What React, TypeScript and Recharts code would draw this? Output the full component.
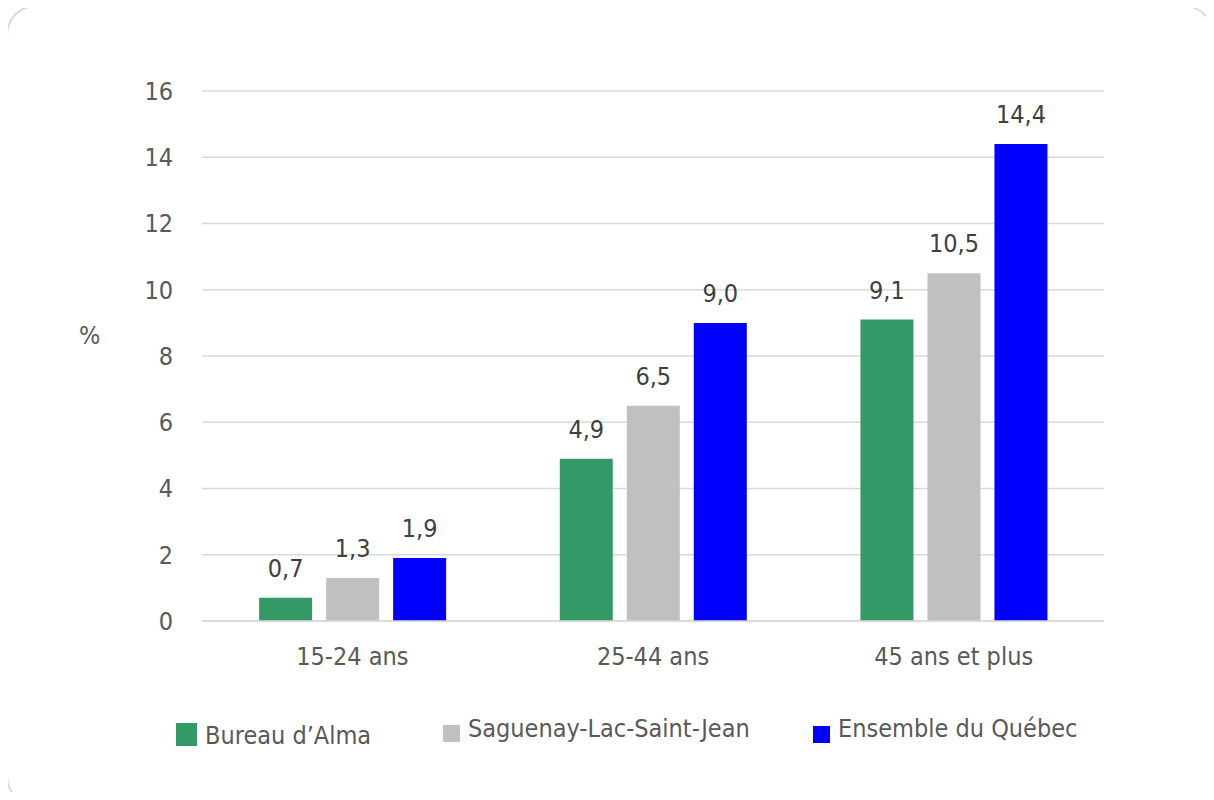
import React from "react";
import { BarChart, Bar, XAxis, YAxis, CartesianGrid, LabelList, Label } from "recharts";

const categories = ["15-24 ans", "25-44 ans", "45 ans et plus"];
const seriesNames = ["Bureau d’Alma", "Saguenay-Lac-Saint-Jean", "Ensemble du Québec"];
const almaValues = [0.7, 4.9, 9.1];
const saguenayValues = [1.3, 6.5, 10.5];
const quebecValues = [1.9, 9.0, 14.4];
const yTicks = [0, 2, 4, 6, 8, 10, 12, 14, 16];

const colors = ["#339966", "#c0c0c0", "#0000ff"];
const keys = ["alma", "saguenay", "quebec"];

const data = categories.map((c, i) => ({
  name: c,
  alma: almaValues[i],
  saguenay: saguenayValues[i],
  quebec: quebecValues[i],
}));

const legendLayout = [
  { left: 176, top: 723, w: 21, h: 23, textLeft: 205, textTop: 721 },
  { left: 443, top: 725, w: 17, h: 17, textLeft: 468, textTop: 714 },
  { left: 813, top: 726, w: 17, h: 17, textLeft: 838, textTop: 714 },
];

const fmt = (v: any) => Number(v).toFixed(1).replace(".", ",");

const FONT = "DejaVu Sans Condensed, DejaVu Sans";
const tickFont = { fontFamily: FONT, fontSize: 25, fill: "#595959" };

export default function App() {
  return (
    <div style={{ position: "relative", margin: -8, width: 1214, height: 800, background: "#fff", overflow: "hidden" }}>
      <div
        style={{
          position: "absolute",
          left: 6,
          top: 5,
          width: 1204,
          height: 797,
          border: "2px solid #d9d9d9",
          borderRadius: 30,
        }}
      />
      <div style={{ position: "absolute", left: 0, top: 0 }}>
        <BarChart
          width={1214}
          height={800}
          data={data}
          margin={{ top: 91, right: 110, bottom: 119, left: 0 }}
          barCategoryGap="19%"
          barGap={14}
        >
          <CartesianGrid vertical={false} stroke="#d9d9d9" strokeWidth={1.5} />
          <XAxis
            dataKey="name"
            height={60}
            axisLine={{ stroke: "#d9d9d9", strokeWidth: 1.5 }}
            tickLine={false}
            tickMargin={20}
            tick={tickFont}
          />
          <YAxis
            width={202}
            domain={[0, 16]}
            ticks={yTicks}
            axisLine={false}
            tickLine={false}
            tickMargin={23}
            tick={tickFont}
          >
            <Label
              value="%"
              position="insideLeft"
              offset={79}
              dy={-21}
              style={{ fontFamily: FONT, fontSize: 25, fill: "#595959" }}
            />
          </YAxis>
          {keys.map((k, i) => (
            <Bar key={k} dataKey={k} name={seriesNames[i]} fill={colors[i]} isAnimationActive={false}>
              <LabelList
                dataKey={k}
                position="top"
                offset={21}
                formatter={fmt}
                style={{ fontFamily: FONT, fontSize: 25, fill: "#404040" }}
              />
            </Bar>
          ))}
        </BarChart>
      </div>
      {seriesNames.map((n, i) => (
        <React.Fragment key={n}>
          <div
            style={{
              position: "absolute",
              left: legendLayout[i].left,
              top: legendLayout[i].top,
              width: legendLayout[i].w,
              height: legendLayout[i].h,
              background: colors[i],
            }}
          />
          <div
            style={{
              position: "absolute",
              left: legendLayout[i].textLeft,
              top: legendLayout[i].textTop,
              fontFamily: FONT,
              fontSize: 25,
              color: "#595959",
              whiteSpace: "nowrap",
              lineHeight: "30px",
            }}
          >
            {n}
          </div>
        </React.Fragment>
      ))}
    </div>
  );
}
